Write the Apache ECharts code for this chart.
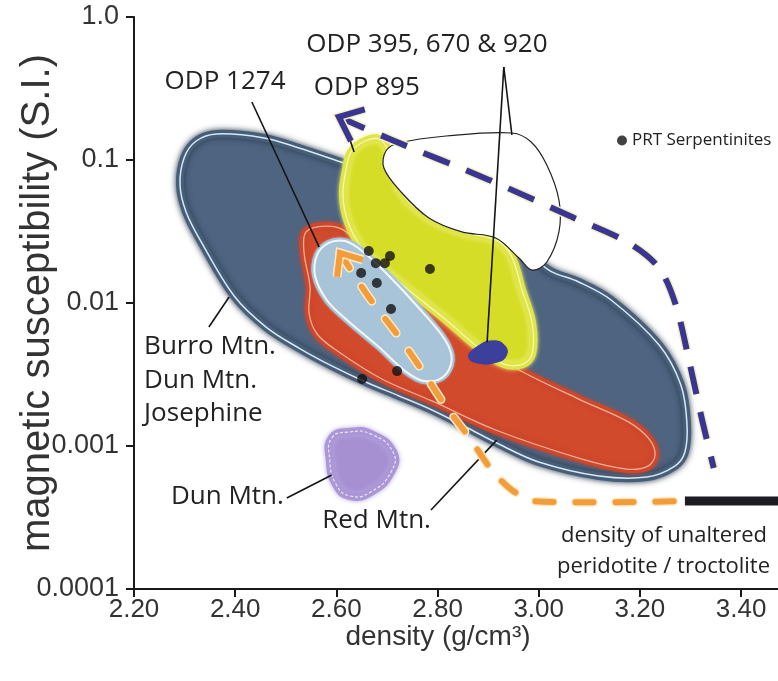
<!DOCTYPE html>
<html><head><meta charset="utf-8">
<script src="https://cdn.jsdelivr.net/npm/echarts@6/dist/echarts.min.js"></script>
<style>html,body{margin:0;padding:0;background:#fff}#c{width:778px;height:681px}</style>
</head><body><div id="c"></div>
<script>
// ---------------- data ----------------
const xTicks = [2.2, 2.4, 2.6, 2.8, 3.0, 3.2, 3.4];
const yTickLabels = { '-4': '0.0001', '-3': '0.001', '-2': '0.01', '-1': '0.1', '0': '1.0' };

const serpDensity = [2.664, 2.706, 2.678, 2.696, 2.649, 2.680, 2.785, 2.708, 2.720, 2.651];
const serpSusc    = [0.0231, 0.0213, 0.0190, 0.0190, 0.0162, 0.0138, 0.0173, 0.00908, 0.00334, 0.00294];

// Burro Mtn. / Dun Mtn. / Josephine field  [density, susceptibility]
const burroRegion = [[2.291,0.0668],[2.299,0.1033],[2.323,0.1358],[2.364,0.152],[2.457,0.1426],[2.526,0.1213],[2.615,0.0953],[2.704,0.0748],[2.823,0.0484],[2.961,0.0255],[3.020,0.017],[3.079,0.01403],[3.143,0.0105],[3.238,0.00508],[3.281,0.00267],[3.293,0.00145],[3.289,0.000908],[3.269,0.000724],[3.214,0.000607],[3.119,0.000617],[3.000,0.000773],[2.921,0.001033],[2.856,0.001358],[2.789,0.001786],[2.724,0.002238],[2.658,0.0028],[2.591,0.00363],[2.526,0.00484],[2.461,0.00679],[2.398,0.01119],[2.334,0.0263],[2.303,0.0433]];
// Red Mtn. field
const redRegion = [[2.540,0.0314],[2.579,0.0345],[2.617,0.0319],[2.684,0.01845],[2.817,0.0076],[2.882,0.00508],[2.961,0.0034],[3.079,0.00213],[3.178,0.00147],[3.218,0.00112],[3.230,0.000865],[3.216,0.000724],[3.174,0.00069],[3.079,0.000824],[2.915,0.001294],[2.789,0.002065],[2.690,0.00294],[2.605,0.00454],[2.562,0.00607],[2.546,0.00851],[2.548,0.01294],[2.536,0.02275]];
// ODP 895 field
const odp895Region = [[2.619,0.0851],[2.629,0.1138],[2.657,0.1358],[2.684,0.1403],[2.704,0.1138],[2.728,0.0597],[2.783,0.0393],[2.848,0.0314],[2.915,0.0276],[2.945,0.0217],[2.967,0.01233],[2.987,0.00724],[2.987,0.0044],[2.969,0.00374],[2.931,0.00374],[2.882,0.00484],[2.817,0.0076],[2.743,0.01233],[2.684,0.01845],[2.649,0.0246],[2.623,0.0368],[2.613,0.0569]];
// ODP 395, 670 & 920 field (white)
const odp395Region = [[2.724,0.1315],[2.817,0.1472],[2.947,0.1545],[2.985,0.1337],[3.016,0.0923],[3.040,0.0525],[3.040,0.0314],[3.016,0.01936],[2.987,0.017],[2.961,0.02064],[2.915,0.0285],[2.848,0.0314],[2.783,0.0393],[2.728,0.0597],[2.694,0.0879],[2.698,0.1156]];
// ODP 395, 670 & 920 small field (dark blue)
const odpSmallRegion = [[2.862,0.00419],[2.878,0.00492],[2.909,0.00542],[2.933,0.0050],[2.935,0.00426],[2.917,0.00387],[2.882,0.0038]];
// ODP 1274 field
const odp1274Region = [[2.585,0.0263],[2.617,0.0271],[2.651,0.0231],[2.704,0.01545],[2.763,0.00923],[2.815,0.00551],[2.828,0.00399],[2.811,0.00304],[2.773,0.00285],[2.736,0.00334],[2.684,0.00492],[2.621,0.0076],[2.581,0.0105],[2.558,0.01545],[2.562,0.0217]];
// Dun Mtn. field (purple)
const dunRegion = [[2.591,0.001138],[2.625,0.001253],[2.668,0.001213],[2.712,0.000908],[2.708,0.000658],[2.668,0.000477],[2.627,0.000447],[2.599,0.000542],[2.587,0.000798]];

// trend arrows
const blueTrend = [[2.605,0.2],[2.710,0.138],[2.902,0.0725],[3.066,0.0399],[3.178,0.0263],[3.238,0.01757],[3.271,0.00968],[3.297,0.00399],[3.323,0.00152],[3.346,0.000702]];
const orangeTrend = [[2.607,0.0224],[2.664,0.01101],[2.718,0.00617],[2.769,0.0034],[2.817,0.001875],[2.862,0.001156],[2.907,0.000679],[2.947,0.000492],[2.991,0.000412],[3.281,0.000412]];
const unalteredBar = [[3.289,0.000412],[3.473,0.000412]];

// leader lines [x1, y1, x2, y2]
const leaderLines = [
  [2.433,0.2545,2.566,0.0246],
  [2.619,0.1675,2.635,0.1138],
  [2.931,0.447,2.947,0.1496],
  [2.931,0.447,2.898,0.00533],
  [2.348,0.00679,2.388,0.01101],
  [2.502,0.000433,2.591,0.000627],
  [2.787,0.000357,2.917,0.0011]
];

const annotationText = ['ODP 395, 670 & 920','ODP 895','ODP 1274','Burro Mtn.','Dun Mtn.','Josephine','Dun Mtn.','Red Mtn.','density of unaltered','peridotite / troctolite'];
const annotationAnchor = [[2.779,0.637],[2.660,0.319],[2.380,0.351],[2.220,0.00492],[2.220,0.00285],[2.220,0.001675],[2.273,0.00044],[2.572,0.000299],[3.044,0.000235],[3.036,0.0001426]];

// ---------------- styles ----------------
const annoAlign = ['center','center','center','left','left','left','left','left','left','left'];
const annoSize  = [26,26,26,26,26,26,26,26,22,22];
const FONT = "'Open Sans', 'Noto Sans', sans-serif";
const AXFONT = "'Liberation Sans', Arial, sans-serif";

function regionSeries(pts, st, z) {
  return {
    type: 'custom', z: z, silent: true, clip: false,
    data: pts, encode: { x: 0, y: 1 },
    renderItem: function (params, api) {
      if (params.dataIndex !== 0) return null;
      const p = pts.map(d => api.coord(d));
      const sm = st.smooth == null ? 0.35 : st.smooth;
      const kids = [{
        type: 'polygon', shape: { points: p, smooth: sm },
        style: { fill: st.fill, stroke: st.edge || null, lineWidth: st.edgeW == null ? 7 : st.edgeW, lineJoin: 'round',
                 shadowBlur: st.blur == null ? 4 : st.blur, shadowColor: st.shadow || st.edge || 'transparent' }
      }];
      if (st.outline) kids.push({
        type: 'polygon', shape: { points: p, smooth: sm },
        style: { fill: 'none', stroke: st.outline, lineWidth: st.outlineW || 1.3, lineDash: st.dash || null }
      });
      return { type: 'group', children: kids };
    }
  };
}

function pathSeries(pts, st, z) {
  return {
    type: 'custom', z: z, silent: true, clip: false,
    data: pts, encode: { x: 0, y: 1 },
    renderItem: function (params, api) {
      if (params.dataIndex !== 0) return null;
      const p = pts.map(d => api.coord(d));
      const kids = [];
      const sm = st.smooth || 0;
      if (st.halo) kids.push({ type: 'polyline', shape: { points: p, smooth: sm },
        style: { fill: 'none', stroke: st.halo, lineWidth: st.width + 3, lineDash: st.dash || null, lineCap: st.cap || 'butt' } });
      kids.push({ type: 'polyline', shape: { points: p, smooth: sm },
        style: { fill: 'none', stroke: st.color, lineWidth: st.width, lineDash: st.dash || null, lineCap: st.cap || 'butt' } });
      if (st.arrow) {
        const tip = p[0], nb = p[1];
        const dx = nb[0] - tip[0], dy = nb[1] - tip[1], len = Math.hypot(dx, dy);
        const ux = dx / len, uy = dy / len, L = st.arrow.len, a = st.arrow.ang * Math.PI / 180;
        const rot = ang => [tip[0] + L * (ux * Math.cos(ang) - uy * Math.sin(ang)), tip[1] + L * (ux * Math.sin(ang) + uy * Math.cos(ang))];
        const head = [rot(a), tip, rot(-a)];
        if (st.halo) kids.push({ type: 'polyline', shape: { points: head }, style: { fill: 'none', stroke: st.halo, lineWidth: st.width + 3, lineJoin: 'miter' } });
        kids.push({ type: 'polyline', shape: { points: head }, style: { fill: 'none', stroke: st.color, lineWidth: st.width, lineJoin: 'miter' } });
      }
      return { type: 'group', children: kids };
    }
  };
}

const chart = echarts.init(document.getElementById('c'), null, { renderer: 'canvas' });

const option = {
  animation: false,
  backgroundColor: '#ffffff',
  grid: { left: 134, right: 0, top: 17, bottom: 92, containLabel: false, outerBoundsMode: 'none' },
  legend: {
    data: ['PRT Serpentinites'], left: 617, top: 132, padding: 0,
    icon: 'circle', itemWidth: 10, itemHeight: 10, itemGap: 4,
    textStyle: { fontSize: 17, fontFamily: FONT, color: '#222' }
  },
  xAxis: {
    type: 'value', min: 2.2, max: 3.473, interval: 0.2,
    name: 'density (g/cm³)', nameLocation: 'middle', nameGap: 34, nameMoveOverlap: false,
    nameTextStyle: { fontSize: 28, fontFamily: "'Liberation Sans Narrow', 'Liberation Sans', Arial, sans-serif", color: '#333', padding: [0, 36, 0, 0] },
    axisLine: { lineStyle: { color: '#1a1a1a', width: 2 } },
    axisTick: { length: 8, lineStyle: { color: '#1a1a1a', width: 2 }, customValues: xTicks },
    axisLabel: { customValues: xTicks, margin: 8, fontSize: 26, fontFamily: AXFONT, color: '#333',
                 formatter: v => Number(v).toFixed(2) },
    splitLine: { show: false }
  },
  yAxis: {
    type: 'log', logBase: 10, min: 0.0001, max: 1,
    name: 'magnetic susceptibility (S.I.)', nameLocation: 'middle', nameGap: 76, nameMoveOverlap: false,
    nameTextStyle: { fontSize: 40, fontFamily: AXFONT, color: '#333' },
    axisLine: { lineStyle: { color: '#1a1a1a', width: 2 } },
    axisTick: { length: 8, lineStyle: { color: '#1a1a1a', width: 2 } },
    axisLabel: { margin: 15, fontSize: 27, fontFamily: AXFONT, color: '#333',
                 formatter: v => yTickLabels[String(Math.round(Math.log10(v)))] || '' },
    splitLine: { show: false }, minorTick: { show: false }
  },
  series: [
    regionSeries(burroRegion, { fill: '#4e6480', edge: '#485d78', shadow: 'rgba(40,55,75,0.9)', edgeW: 8, blur: 6, outline: '#d4eaf7', outlineW: 1.5 }, 1),
    regionSeries(redRegion, { fill: '#d24a2c', edge: '#cc472b', edgeW: 8, blur: 4, outline: '#f6ad90', outlineW: 1.3 }, 2),
    regionSeries(odp895Region, { fill: '#d6dd27', edge: '#dfe548', edgeW: 8, blur: 4, shadow: '#eef27a', outline: '#f8f7ab', outlineW: 1.3 }, 3),
    regionSeries(odp395Region, { fill: '#ffffff', edge: '#222222', edgeW: 1.2, blur: 0 }, 4),
    regionSeries(odp1274Region, { fill: '#a8c4d9', edge: '#a8c4d9', edgeW: 6, blur: 2, outline: '#f2f9fd', outlineW: 2 }, 5),
    regionSeries(odpSmallRegion, { fill: '#3d3f9c', edge: '#3d3f9c', edgeW: 1, blur: 1, smooth: 0.5 }, 6),
    regionSeries(dunRegion, { fill: '#a690d2', edge: '#ab96d6', edgeW: 8, blur: 5, shadow: '#b9a8e0', outline: '#ece6f8', outlineW: 1.2, dash: [3, 2], smooth: 0.5 }, 6),
    {
      type: 'custom', z: 7, silent: true, clip: false,
      data: leaderLines, encode: { x: [0, 2], y: [1, 3] },
      renderItem: function (params, api) {
        const a = api.coord([api.value(0), api.value(1)]);
        const b = api.coord([api.value(2), api.value(3)]);
        return { type: 'line', shape: { x1: a[0], y1: a[1], x2: b[0], y2: b[1] }, style: { stroke: '#151515', lineWidth: 1.6 } };
      }
    },
    pathSeries(orangeTrend, { color: '#f39c3c', halo: '#fde9c4', width: 6, dash: [18, 22], cap: 'round', smooth: 0.3,
                              arrow: { len: 24, ang: 40 } }, 8),
    pathSeries(blueTrend, { color: '#3b3592', halo: '#f3eec4', width: 6, dash: [28, 18], cap: 'butt', smooth: 0.3,
                            arrow: { len: 27, ang: 40 } }, 9),
    pathSeries(unalteredBar, { color: '#1c1c22', width: 9, cap: 'butt' }, 9),
    {
      type: 'scatter', name: 'PRT Serpentinites', z: 10,
      data: serpDensity.map((d, i) => [d, serpSusc[i]]),
      symbol: 'circle', symbolSize: 10, itemStyle: { color: '#111111' }
    },
    {
      type: 'custom', z: 11, silent: true, clip: false,
      data: annotationAnchor, encode: { x: 0, y: 1 },
      renderItem: function (params, api) {
        const i = params.dataIndex;
        const c = api.coord([api.value(0), api.value(1)]);
        return { type: 'text', x: c[0], y: c[1],
          style: { text: annotationText[i], fill: '#222', fontSize: annoSize[i], fontFamily: FONT,
                   align: annoAlign[i], verticalAlign: 'middle' } };
      }
    }
  ]
};
chart.setOption(option);
</script>
</body></html>
